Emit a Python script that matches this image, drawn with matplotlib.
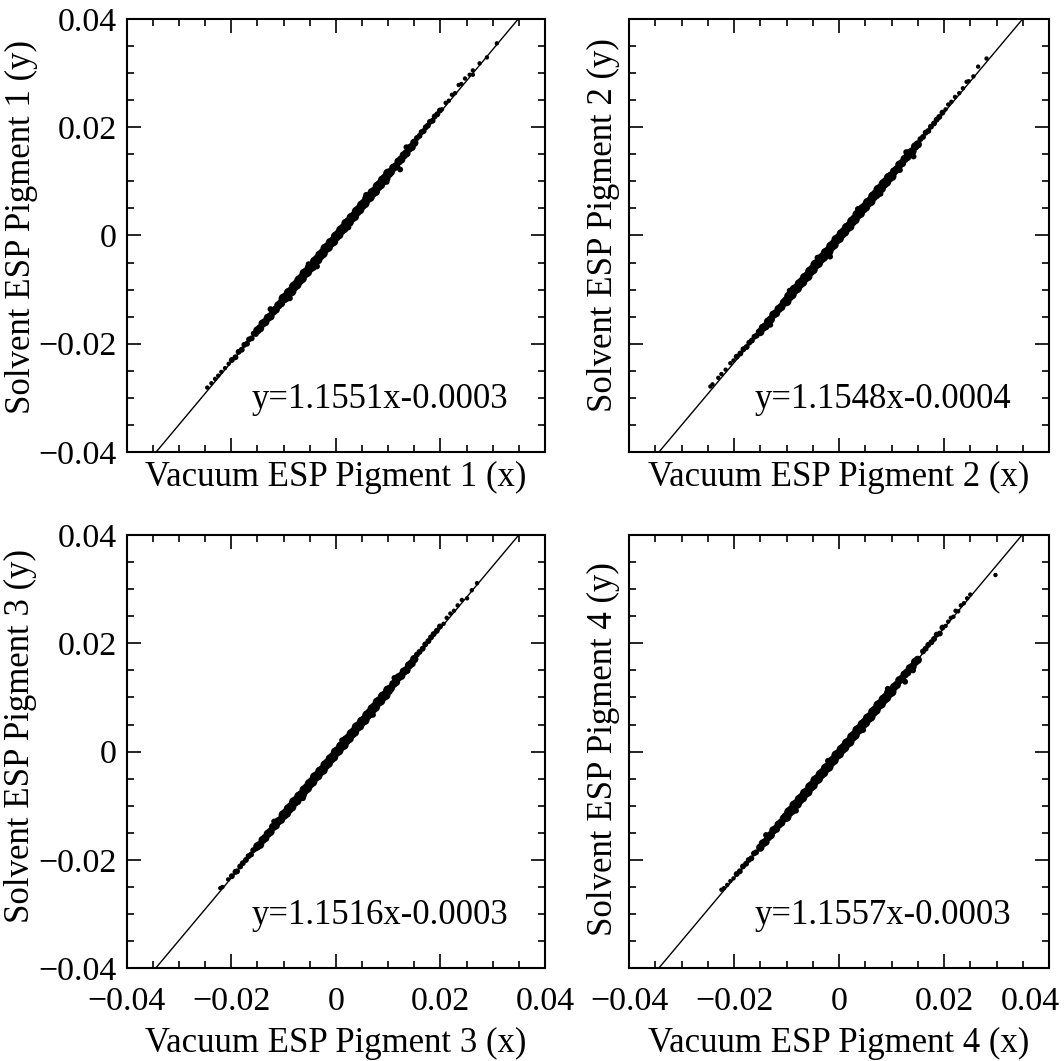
import matplotlib.pyplot as plt
from matplotlib.ticker import MultipleLocator, FixedLocator, FuncFormatter
from matplotlib.transforms import ScaledTranslation

plt.rcParams['font.family'] = ['Liberation Serif', 'DejaVu Serif']

# fit printed on each panel
slopes = [1.1551, 1.1548, 1.1516, 1.1557]
intercepts = [-0.0003, -0.0004, -0.0003, -0.0003]
pigments = [1, 2, 3, 4]

# dense centre of the cloud (vacuum ESP, shared sampling)
vac_core = [-0.0150, -0.0145, -0.0140, -0.0135, -0.0130, -0.0125, -0.0120, -0.0115, -0.0110, -0.0105,
            -0.0100, -0.0095, -0.0090, -0.0085, -0.0080, -0.0075, -0.0070, -0.0065, -0.0060, -0.0055,
            -0.0050, -0.0045, -0.0040, -0.0035, -0.0030, -0.0025, -0.0020, -0.0015, -0.0010, -0.0005,
            0.0000, 0.0005, 0.0010, 0.0015, 0.0020, 0.0025, 0.0030, 0.0035, 0.0040, 0.0045,
            0.0050, 0.0055, 0.0060, 0.0065, 0.0070, 0.0075, 0.0080, 0.0085, 0.0090, 0.0095,
            0.0100, 0.0105, 0.0110, 0.0115, 0.0120, 0.0125, 0.0130, 0.0135, 0.0140, 0.0145, 0.0150]

solv_core_1 = [-0.01753, -0.01715, -0.01627, -0.01599, -0.01522, -0.01494, -0.01406, -0.01368, -0.01291, -0.01253,
               -0.01165, -0.01137, -0.01060, -0.01032, -0.00944, -0.00906, -0.00829, -0.00791, -0.00703, -0.00675,
               -0.00598, -0.00570, -0.00482, -0.00444, -0.00367, -0.00329, -0.00241, -0.00213, -0.00136, -0.00108,
               -0.00020, 0.00018, 0.00096, 0.00133, 0.00221, 0.00249, 0.00327, 0.00354, 0.00442, 0.00480,
               0.00558, 0.00595, 0.00683, 0.00711, 0.00789, 0.00816, 0.00904, 0.00942, 0.01020, 0.01057,
               0.01145, 0.01173, 0.01251, 0.01278, 0.01366, 0.01404, 0.01482, 0.01519, 0.01607, 0.01635, 0.01713]
solv_core_2 = [-0.01783, -0.01705, -0.01677, -0.01589, -0.01552, -0.01464, -0.01436, -0.01358, -0.01321, -0.01243,
               -0.01215, -0.01127, -0.01090, -0.01002, -0.00974, -0.00896, -0.00859, -0.00781, -0.00753, -0.00665,
               -0.00628, -0.00540, -0.00512, -0.00434, -0.00397, -0.00319, -0.00291, -0.00203, -0.00166, -0.00078,
               -0.00050, 0.00028, 0.00066, 0.00143, 0.00171, 0.00259, 0.00297, 0.00384, 0.00412, 0.00490,
               0.00528, 0.00605, 0.00633, 0.00721, 0.00759, 0.00846, 0.00874, 0.00952, 0.00990, 0.01067,
               0.01095, 0.01183, 0.01221, 0.01308, 0.01336, 0.01414, 0.01452, 0.01529, 0.01557, 0.01645, 0.01683]
solv_core_3 = [-0.01748, -0.01720, -0.01632, -0.01594, -0.01517, -0.01480, -0.01392, -0.01364, -0.01287, -0.01259,
               -0.01171, -0.01134, -0.01057, -0.01019, -0.00931, -0.00903, -0.00827, -0.00799, -0.00711, -0.00673,
               -0.00596, -0.00558, -0.00471, -0.00443, -0.00366, -0.00338, -0.00250, -0.00212, -0.00136, -0.00098,
               -0.00010, 0.00018, 0.00096, 0.00123, 0.00211, 0.00248, 0.00326, 0.00363, 0.00451, 0.00478,
               0.00556, 0.00583, 0.00671, 0.00709, 0.00787, 0.00823, 0.00911, 0.00939, 0.01017, 0.01044,
               0.01131, 0.01169, 0.01247, 0.01284, 0.01372, 0.01399, 0.01477, 0.01504, 0.01592, 0.01630, 0.01708]
solv_core_4 = [-0.01773, -0.01695, -0.01667, -0.01579, -0.01542, -0.01454, -0.01426, -0.01348, -0.01311, -0.01233,
               -0.01205, -0.01117, -0.01080, -0.00992, -0.00964, -0.00886, -0.00849, -0.00771, -0.00743, -0.00655,
               -0.00618, -0.00530, -0.00502, -0.00424, -0.00387, -0.00309, -0.00281, -0.00193, -0.00156, -0.00068,
               -0.00040, 0.00038, 0.00076, 0.00153, 0.00181, 0.00269, 0.00307, 0.00394, 0.00422, 0.00500,
               0.00538, 0.00615, 0.00643, 0.00731, 0.00769, 0.00856, 0.00884, 0.00962, 0.01000, 0.01077,
               0.01105, 0.01193, 0.01231, 0.01318, 0.01346, 0.01424, 0.01462, 0.01539, 0.01567, 0.01655, 0.01693]

# sparse tails and stray points
vac_tail_1 = [-0.0246, -0.0238, -0.0231, -0.0225, -0.0219, -0.0212, -0.0205, -0.0199, -0.0192, -0.0186,
              -0.0180, -0.0175, -0.0170, -0.0166, -0.0161, -0.0157, -0.0153,
              0.0155, 0.0160, 0.0164, 0.0168, 0.0172, 0.0176, 0.0180, 0.0185, 0.0189, 0.0194, 0.0199, 0.0203,
              0.0210, 0.0216, 0.0222, 0.0228, 0.0235, 0.0240, 0.0247, 0.0256, 0.0262, 0.0275, 0.0289, 0.0308,
              0.0123, -0.0036, 0.0262,
              -0.0125, -0.0088, -0.0052, 0.0024, 0.0058, 0.0097, 0.0135]
solv_tail_1 = [-0.0281, -0.0273, -0.0265, -0.0259, -0.0252, -0.0245, -0.0237, -0.0230, -0.0225, -0.0215,
               -0.0211, -0.0202, -0.0200, -0.0192, -0.0190, -0.0181, -0.0182,
               0.0180, 0.0184, 0.0191, 0.0193, 0.0200, 0.0203, 0.0210, 0.0212, 0.0220, 0.0224, 0.0231, 0.0233,
               0.0245, 0.0249, 0.0260, 0.0263, 0.0278, 0.0280, 0.0290, 0.0297, 0.0305, 0.0318, 0.0329, 0.0355,
               0.0122, -0.0057, 0.0297,
               -0.0136, -0.0116, -0.0053, 0.0015, 0.0075, 0.0099, 0.0163]

vac_tail_2 = [-0.0245, -0.0241, -0.0230, -0.0224, -0.0216, -0.0207, -0.0201, -0.0195, -0.0188, -0.0182,
              -0.0176, -0.0171, -0.0166, -0.0161, -0.0157, -0.0153,
              0.0155, 0.0160, 0.0165, 0.0170, 0.0175, 0.0181, 0.0186, 0.0191, 0.0197, 0.0203,
              0.0208, 0.0214, 0.0221, 0.0229, 0.0236, 0.0243, 0.0247, 0.0256, 0.0265, 0.0281,
              0.0142, 0.0116, -0.0017,
              -0.0131, -0.0094, -0.0041, 0.0036, 0.0079, 0.0128]
solv_tail_2 = [-0.0279, -0.0275, -0.0263, -0.0256, -0.0248, -0.0236, -0.0231, -0.0224, -0.0218, -0.0210,
               -0.0206, -0.0198, -0.0194, -0.0187, -0.0185, -0.0178,
               0.0178, 0.0182, 0.0190, 0.0193, 0.0201, 0.0207, 0.0214, 0.0219, 0.0227, 0.0233,
               0.0242, 0.0247, 0.0256, 0.0263, 0.0272, 0.0284, 0.0285, 0.0294, 0.0312, 0.0327,
               0.0146, 0.0121, -0.0039,
               -0.0165, -0.0102, -0.0041, 0.0049, 0.0077, 0.0154]

vac_tail_3 = [-0.0221, -0.0217, -0.0206, -0.0199, -0.0192, -0.0189, -0.0183, -0.0178, -0.0172, -0.0167,
              -0.0162, -0.0158, -0.0153,
              0.0155, 0.0160, 0.0166, 0.0171, 0.0177, 0.0182, 0.0187, 0.0193, 0.0199, 0.0206,
              0.0212, 0.0219, 0.0226, 0.0233, 0.0241, 0.0251, 0.0260, 0.0270,
              -0.0118, -0.0063, 0.0012, 0.0071, 0.0112]
solv_tail_3 = [-0.0252, -0.0250, -0.0236, -0.0230, -0.0222, -0.0221, -0.0212, -0.0206, -0.0200, -0.0193,
               -0.0190, -0.0182, -0.0179,
               0.0179, 0.0184, 0.0190, 0.0198, 0.0204, 0.0211, 0.0217, 0.0223, 0.0231, 0.0236,
               0.0247, 0.0255, 0.0260, 0.0270, 0.0280, 0.0283, 0.0298, 0.0311,
               -0.0129, -0.0086, 0.0021, 0.0068, 0.0136]

vac_tail_4 = [-0.0224, -0.0219, -0.0213, -0.0207, -0.0201, -0.0195, -0.0189, -0.0183, -0.0177, -0.0172,
              -0.0167, -0.0162, -0.0158,
              0.0160, 0.0165, 0.0170, 0.0176, 0.0181, 0.0186, 0.0192, 0.0197, 0.0203, 0.0208,
              0.0213, 0.0218, 0.0222, 0.0227, 0.0232, 0.0238, 0.0244, 0.0250, 0.0298,
              0.0126,
              -0.0139, -0.0082, -0.0021, 0.0046, 0.0093, 0.0141]
solv_tail_4 = [-0.0255, -0.0252, -0.0246, -0.0239, -0.0234, -0.0226, -0.0221, -0.0212, -0.0207, -0.0200,
               -0.0197, -0.0188, -0.0186,
               0.0185, 0.0190, 0.0197, 0.0202, 0.0208, 0.0216, 0.0218, 0.0229, 0.0232, 0.0240,
               0.0247, 0.0249, 0.0260, 0.0259, 0.0270, 0.0274, 0.0283, 0.0290, 0.0326,
               0.0129,
               -0.0154, -0.0109, -0.0017, 0.0040, 0.0116, 0.0150]

solv_cores = [solv_core_1, solv_core_2, solv_core_3, solv_core_4]
vac_tails = [vac_tail_1, vac_tail_2, vac_tail_3, vac_tail_4]
solv_tails = [solv_tail_1, solv_tail_2, solv_tail_3, solv_tail_4]

major = [-0.04, -0.02, 0, 0.02, 0.04]


def fmt(v, pos):
    if abs(v) < 1e-9:
        return '0'
    return f'{v:.2f}'.replace('-', '\u2212')


fig = plt.figure(figsize=(10.64, 10.61), dpi=100)
boxes = [[0.1191, 0.5740, 0.3931, 0.4081], [0.5912, 0.5740, 0.3947, 0.4081],
         [0.1191, 0.0874, 0.3931, 0.4084], [0.5912, 0.0874, 0.3947, 0.4084]]
ylab_x = [-0.212, -0.022, -0.214, -0.022]
ylab_y = [0.519, 0.525, 0.535, 0.505]

for i in range(4):
    ax = fig.add_axes(boxes[i])
    # band is thickest in the middle
    core_sizes = [52 if abs(v) < 0.0105 else 36 for v in vac_core]
    ax.scatter(vac_core, solv_cores[i], s=core_sizes, c='black', edgecolors='none', zorder=3)
    tail_sizes = [18 if abs(v) < 0.02 else 10 for v in vac_tails[i]]
    ax.scatter(vac_tails[i], solv_tails[i], s=tail_sizes, c='black', edgecolors='none', zorder=3)
    ax.axline((0, intercepts[i]), slope=slopes[i], color='black', lw=1.0, zorder=2)

    ax.set_xlim(-0.04, 0.04)
    ax.set_ylim(-0.04, 0.04)
    ax.xaxis.set_major_locator(FixedLocator(major))
    ax.yaxis.set_major_locator(FixedLocator(major))
    ax.xaxis.set_minor_locator(MultipleLocator(0.005))
    ax.yaxis.set_minor_locator(MultipleLocator(0.005))
    ax.xaxis.set_major_formatter(FuncFormatter(fmt))
    ax.yaxis.set_major_formatter(FuncFormatter(fmt))
    ax.tick_params(which='both', direction='in', top=True, right=True, width=1.2, labelsize=24.5)
    ax.tick_params(axis='y', pad=7)
    ax.tick_params(axis='x', pad=13)
    ax.tick_params(which='major', length=10)
    ax.tick_params(which='minor', length=5)
    for sp in ax.spines.values():
        sp.set_linewidth(1.5)

    if i < 2:
        ax.tick_params(labelbottom=False)
    if i % 2 == 1:
        ax.tick_params(labelleft=False)

    ax.set_xlabel(f'Vacuum ESP Pigment {pigments[i]} (x)', fontsize=25, labelpad=7 if i >= 2 else 3)
    ax.set_ylabel(f'Solvent ESP Pigment {pigments[i]} (y)', fontsize=25)
    ax.yaxis.set_label_coords(ylab_x[i], ylab_y[i])
    sign = '-' if intercepts[i] < 0 else '+'
    ax.text(0.299, 0.1016, f'y={slopes[i]:.4f}x{sign}{abs(intercepts[i]):.4f}',
            transform=ax.transAxes, fontsize=25, ha='left', va='baseline')

    if i == 3:
        # last tick label sits pulled in from the page edge
        fig.canvas.draw()
        lab = ax.get_xticklabels()[-1]
        lab.set_transform(lab.get_transform() + ScaledTranslation(-0.19, 0, fig.dpi_scale_trans))

fig.savefig('out.png', dpi=100)
